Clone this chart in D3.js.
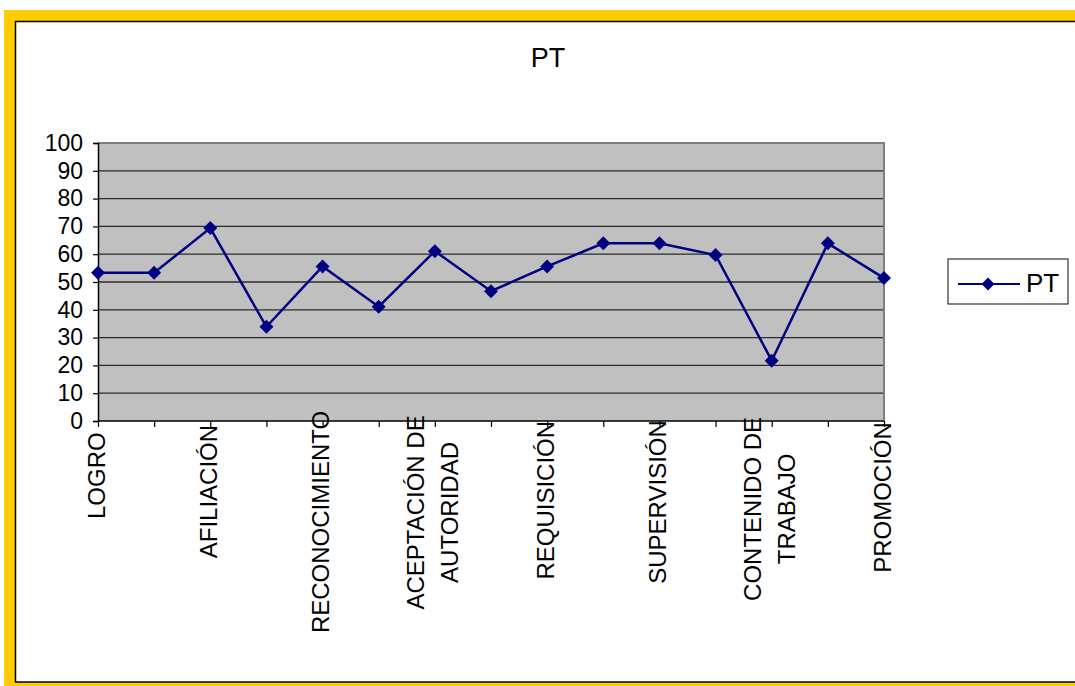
<!DOCTYPE html>
<html>
<head>
<meta charset="utf-8">
<script src="https://cdn.jsdelivr.net/npm/d3@7"></script>
<style>
  html, body { margin: 0; padding: 0; background: #ffffff; }
  svg { display: block; }
  text { font-family: "Liberation Sans", Arial, sans-serif; fill: #000; }
</style>
</head>
<body>
<svg id="chart" width="1075" height="686"></svg>
<script>
// Category labels along the x axis (only every other category carries a label)
const categories = [
  "LOGRO", null, "AFILIACIÓN", null, "RECONOCIMIENTO", null,
  "ACEPTACIÓN DE\nAUTORIDAD", null, "REQUISICIÓN", null, "SUPERVISIÓN", null,
  "CONTENIDO DE\nTRABAJO", null, "PROMOCIÓN"
];
// Series PT
const seriesName = "PT";
const ptValues = [53.3, 53.3, 69.4, 33.9, 55.6, 41.1, 61.1, 46.7, 55.6, 63.9, 63.9, 59.7, 21.7, 63.9, 51.4];
// Value axis ticks
const yTicks = [0, 10, 20, 30, 40, 50, 60, 70, 80, 90, 100];

const svg = d3.select("#chart");
const W = 1075, H = 686;
const plot = { left: 98, right: 884, top: 143, bottom: 421 };
const navy = "#000080";

// Outer frame: gold band with a dark inner edge
svg.append("rect").attr("x", 4).attr("y", 10).attr("width", W).attr("height", H - 10)
  .attr("fill", "#FFCC00");
svg.append("rect").attr("x", 15.5).attr("y", 21.5).attr("width", W).attr("height", 660.5)
  .attr("fill", "#ffffff").attr("stroke", "#000").attr("stroke-width", 1.5);

const x = d3.scalePoint().domain(d3.range(categories.length)).range([plot.left, plot.right]);
const y = d3.scaleLinear().domain([0, 100]).range([plot.bottom, plot.top]);

// Plot area
svg.append("rect")
  .attr("x", plot.left).attr("y", plot.top)
  .attr("width", plot.right - plot.left).attr("height", plot.bottom - plot.top)
  .attr("fill", "#C0C0C0");

// Horizontal gridlines
svg.append("g").selectAll("line").data(yTicks.filter(t => t > 0 && t < 100)).join("line")
  .attr("x1", plot.left).attr("x2", plot.right)
  .attr("y1", d => y(d)).attr("y2", d => y(d))
  .attr("stroke", "#2b2b2b").attr("stroke-width", 1.3);

// Top and right border of the plot area
svg.append("path")
  .attr("d", `M${plot.left},${y(100)}H${plot.right}V${plot.bottom}`)
  .attr("fill", "none").attr("stroke", "#7f7f7f").attr("stroke-width", 2);

// Y axis
const yAxis = svg.append("g").attr("transform", `translate(${plot.left},0)`)
  .call(d3.axisLeft(y).tickValues(yTicks).tickSize(5).tickPadding(10).tickFormat(d3.format("d")));
yAxis.select(".domain").attr("stroke", "#000").attr("stroke-width", 1.5);
yAxis.selectAll(".tick line").attr("stroke", "#000").attr("stroke-width", 1.2);
yAxis.selectAll(".tick text")
  .style("font-family", '"Liberation Sans", Arial, sans-serif')
  .style("font-size", "23px").attr("fill", "#000");

// X axis (ticks only; labels drawn separately)
const xAxis = svg.append("g").attr("transform", `translate(0,${plot.bottom})`)
  .call(d3.axisBottom(x).tickSize(6).tickFormat(""));
xAxis.select(".domain").attr("stroke", "#000").attr("stroke-width", 1.5)
  .attr("d", `M${plot.left},0H${plot.right}`);
xAxis.selectAll(".tick line").attr("stroke", "#000").attr("stroke-width", 1.2);

// Rotated category labels
const labelFont = 24;
const lineGap = 34;
categories.forEach((label, i) => {
  if (!label) return;
  const lines = label.split("\n");
  const g = svg.append("g");
  const texts = lines.map((ln, k) => {
    const cx = x(i) - 2 + (k - (lines.length - 1) / 2) * lineGap;
    return g.append("text")
      .attr("text-anchor", "middle")
      .attr("dy", "0.36em")
      .style("font-size", labelFont + "px")
      .attr("data-cx", cx)
      .text(ln);
  });
  const L = d3.max(texts, t => t.node().getComputedTextLength());
  const cy = 446 + 0.342 * L;
  texts.forEach(t => {
    t.attr("transform", `translate(${+t.attr("data-cx")},${cy}) rotate(-90)`).attr("data-cx", null);
  });
});

// Series line
const line = d3.line().x((d, i) => x(i)).y(d => y(d));
svg.append("path").datum(ptValues)
  .attr("d", line).attr("fill", "none")
  .attr("stroke", navy).attr("stroke-width", 2.5).attr("stroke-linejoin", "miter");

// Diamond markers
const diamond = r => `M0,${-r}L${r},0L0,${r}L${-r},0Z`;
svg.append("g").selectAll("path").data(ptValues).join("path")
  .attr("transform", (d, i) => `translate(${x(i)},${y(d)})`)
  .attr("d", diamond(7)).attr("fill", navy);

// Title
svg.append("text").attr("x", 548).attr("y", 67)
  .attr("text-anchor", "middle").style("font-size", "27px").text(seriesName);

// Legend
const lg = svg.append("g");
lg.append("rect").attr("x", 948).attr("y", 259).attr("width", 120).attr("height", 45)
  .attr("fill", "#fff").attr("stroke", "#333").attr("stroke-width", 1.2);
lg.append("line").attr("x1", 958).attr("x2", 1020).attr("y1", 284).attr("y2", 284)
  .attr("stroke", navy).attr("stroke-width", 2);
lg.append("path").attr("transform", "translate(988,284)").attr("d", diamond(6.5)).attr("fill", navy);
lg.append("text").attr("x", 1026).attr("y", 292).style("font-size", "26px").text(seriesName);
</script>
</body>
</html>
